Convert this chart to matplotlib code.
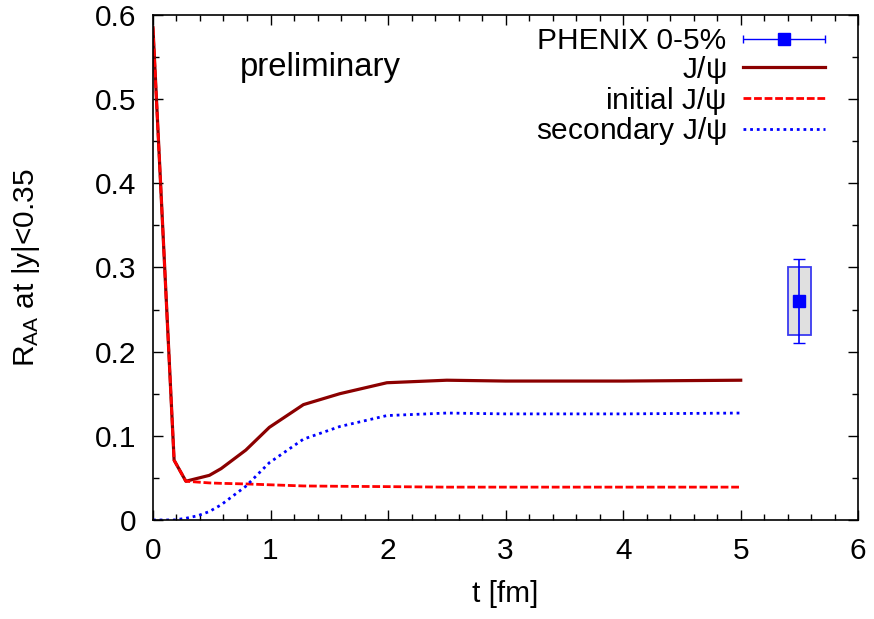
import matplotlib.pyplot as plt
from matplotlib.patches import Rectangle
from matplotlib.ticker import MultipleLocator
from matplotlib.legend_handler import HandlerErrorbar

plt.rcParams['font.family'] = ['Liberation Sans', 'DejaVu Sans']
plt.rcParams['mathtext.fontset'] = 'custom'
plt.rcParams['mathtext.rm'] = 'Liberation Sans'
plt.rcParams['mathtext.it'] = 'Liberation Sans'

# time in fm
t = [0.0, 0.18, 0.28, 0.48, 0.58, 0.79, 0.99, 1.28, 1.59, 1.99, 2.5, 3.0, 4.0, 5.0]
total = [0.585, 0.071, 0.046, 0.053, 0.061, 0.083, 0.110, 0.137, 0.150, 0.163, 0.166, 0.165, 0.165, 0.166]
initial = [0.585, 0.071, 0.046, 0.044, 0.0435, 0.0428, 0.0418, 0.0404, 0.040, 0.0396, 0.039, 0.039, 0.039, 0.039]
t_sec = [0.0, 0.18, 0.28, 0.38, 0.48, 0.58, 0.79, 0.99, 1.28, 1.59, 1.99, 2.5, 3.0, 4.0, 5.0]
secondary = [0.0, 0.0, 0.002, 0.005, 0.010, 0.018, 0.040, 0.068, 0.096, 0.111, 0.124, 0.127, 0.126, 0.126, 0.127]

# PHENIX point
px = 5.5
py = 0.26
py_err = 0.05
sys_lo, sys_hi = 0.22, 0.30
sys_width = 0.2

fig = plt.figure(figsize=(8.74, 6.19), dpi=100)
ax = fig.add_axes([0.175, 0.160, 0.807, 0.816])

fs = 21.5

# dummy handle for the legend (horizontal bars like gnuplot)
leg_pt = ax.errorbar([float('nan')], [float('nan')], xerr=[0.1], fmt='s', color='blue',
                     ms=9, lw=1, capsize=3, label='PHENIX 0-5%')
l_tot, = ax.plot(t, total, color='#8b0000', lw=2.3, label=r'J/$\psi$')
l_ini, = ax.plot(t, initial, color='red', lw=2.0, ls=(0, (2.8, 1.0)), label=r'initial J/$\psi$')
l_sec, = ax.plot(t_sec, secondary, color='blue', lw=2.0, ls=(0, (1, 1.4)), label=r'secondary J/$\psi$')

ax.add_patch(Rectangle((px - sys_width / 2, sys_lo), sys_width, sys_hi - sys_lo,
                       facecolor='#e0e0e0', edgecolor='#3a3af0', lw=1.3, zorder=3))
ax.errorbar([px], [py], yerr=[py_err], fmt='s', color='blue', ms=9, lw=1.2,
            capsize=4, zorder=4)

ax.text(0.735, 0.537, 'preliminary', fontsize=23.7, va='center', ha='left')

ax.set_xlim(0, 6)
ax.set_ylim(0, 0.6)
ax.xaxis.set_major_locator(MultipleLocator(1))
ax.xaxis.set_minor_locator(MultipleLocator(0.2))
ax.yaxis.set_major_locator(MultipleLocator(0.1))
ax.yaxis.set_minor_locator(MultipleLocator(0.05))
ax.set_xticks([0, 1, 2, 3, 4, 5, 6])
ax.set_xticklabels(['0', '1', '2', '3', '4', '5', '6'])
ax.set_yticks([0, 0.1, 0.2, 0.3, 0.4, 0.5, 0.6])
ax.set_yticklabels(['0', '0.1', '0.2', '0.3', '0.4', '0.5', '0.6'])
ax.tick_params(which='both', direction='in', top=True, right=True, labelsize=fs)
ax.tick_params(which='major', length=7, width=1)
ax.tick_params(which='minor', length=4, width=1)
ax.tick_params(axis='y', pad=12)
ax.tick_params(axis='x', pad=12)
for s in ax.spines.values():
    s.set_linewidth(1.2)

ax.set_xlabel('t [fm]', fontsize=fs, labelpad=11)
ax.set_ylabel(r'R$_{\mathrm{AA}}$ at |y|<0.35', fontsize=fs, labelpad=38)

leg = ax.legend([leg_pt, l_tot, l_ini, l_sec],
                ['PHENIX 0-5%', r'J/$\psi$', r'initial J/$\psi$', r'secondary J/$\psi$'],
                handler_map={type(leg_pt): HandlerErrorbar(xerr_size=1.37)},
                loc='upper right', bbox_to_anchor=(0.953, 0.976), frameon=False,
                markerfirst=False, fontsize=fs, handlelength=2.74, handletextpad=0.57,
                labelspacing=-0.04, borderaxespad=0, borderpad=0)

fig.savefig('out.png', dpi=100)
